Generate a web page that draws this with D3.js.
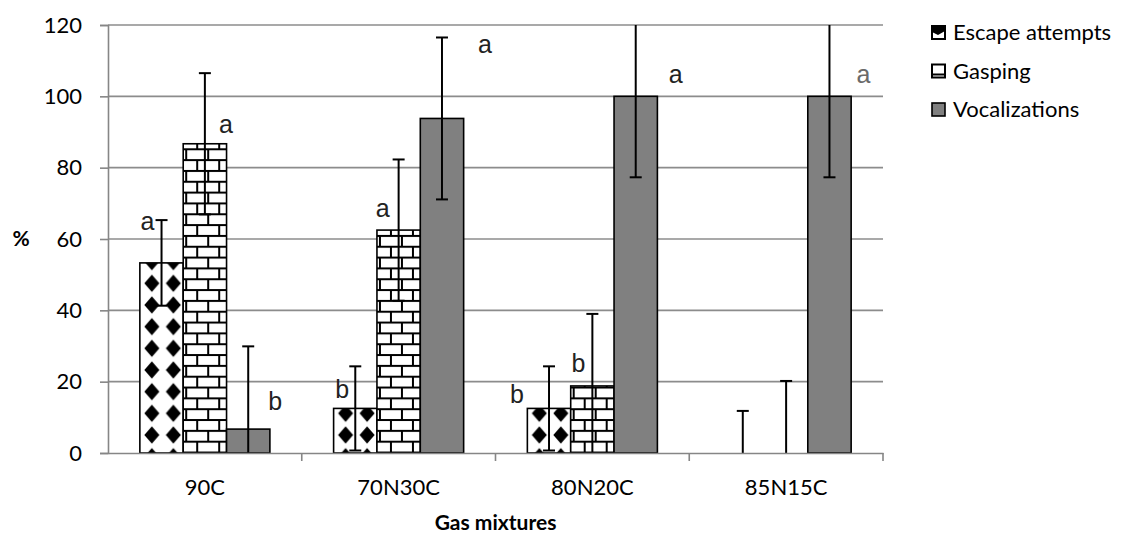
<!DOCTYPE html>
<html>
<head>
<meta charset="utf-8">
<script src="https://cdn.jsdelivr.net/npm/d3@7"></script>
<style>
  html, body { margin: 0; padding: 0; background: #fff; }
  svg { display: block; font-family: Lato, "Open Sans", sans-serif; }
</style>
</head>
<body>
<svg id="chart" width="1134" height="547"></svg>
<script>
// Response percentages per gas mixture
const categories = ["90C", "70N30C", "80N20C", "85N15C"];
const seriesNames = ["Escape attempts", "Gasping", "Vocalizations"];
const escapeValues = [53.3, 12.5, 12.5, 0];
const gaspingValues = [86.7, 62.5, 18.8, 0];
const vocalValues = [6.7, 93.8, 100, 100];
const escapeErrors = [12.0, 11.8, 11.8, 11.8];
const gaspingErrors = [19.8, 19.8, 20.2, 20.2];
const vocalErrors = [23.2, 22.7, 22.7, 22.7];
// Significance letters per series
const escapeLetters = ["a", "b", "b", ""];
const gaspingLetters = ["a", "a", "b", ""];
const vocalLetters = ["b", "a", "a", "a"];
const yTicks = [0, 20, 40, 60, 80, 100, 120];

// Letter placement (value level of baseline, horizontal shift from bar centre)
const escapeLetterPos = [[62.5, -14], [15.4, -13], [14.0, -32], null];
const gaspingLetterPos = [[89.7, 21], [66.2, -16], [22.7, -14], null];
const vocalLetterPos = [[12.1, 27], [112.1, 43], [103.7, 40], [103.7, 34]];

const svg = d3.select("#chart");
const plotLeft = 108, plotRight = 883, plotTop = 25, plotBottom = 453;

const x = d3.scaleBand().domain(categories).range([plotLeft, plotRight]).padding(0);
const xs = d3.scaleBand().domain(seriesNames).range([0, x.bandwidth()])
  .paddingInner(0).paddingOuter(0.735);
const y = d3.scaleLinear().domain([0, 120]).range([plotBottom, plotTop]);

const series = [
  { name: seriesNames[0], values: escapeValues, errors: escapeErrors, letters: escapeLetters, pos: escapeLetterPos, kind: "diamond" },
  { name: seriesNames[1], values: gaspingValues, errors: gaspingErrors, letters: gaspingLetters, pos: gaspingLetterPos, kind: "brick" },
  { name: seriesNames[2], values: vocalValues, errors: vocalErrors, letters: vocalLetters, pos: vocalLetterPos, kind: "solid" }
];

const defs = svg.append("defs");
defs.append("clipPath").attr("id", "plotClip")
  .append("rect").attr("x", plotLeft - 20).attr("y", plotTop)
  .attr("width", plotRight - plotLeft + 40).attr("height", plotBottom - plotTop);

// Gridlines
svg.append("g")
  .selectAll("line")
  .data(yTicks.filter(t => t > 0))
  .join("line")
  .attr("x1", plotLeft).attr("x2", plotRight)
  .attr("y1", d => y(d)).attr("y2", d => y(d))
  .attr("stroke", "#8c8c8c").attr("stroke-width", 1.6);

// Pattern builders, anchored to each bar
function diamondPattern(id, bx) {
  const w = 21.5, h = 21.67;
  const p = defs.append("pattern").attr("id", id)
    .attr("patternUnits", "userSpaceOnUse")
    .attr("x", bx + 1.25).attr("y", y(0) - 18 - h / 2)
    .attr("width", w).attr("height", h);
  p.append("rect").attr("width", w).attr("height", h).attr("fill", "#fff");
  const cx = w / 2, cy = h / 2;
  p.append("path")
    .attr("d", `M${cx},${cy - 8.5}L${cx + 7.5},${cy}L${cx},${cy + 8.5}L${cx - 7.5},${cy}Z`)
    .attr("fill", "#000");
}
function brickPattern(id, bx) {
  const w = 22, rh = 10.83, h = rh * 2, t = 2;
  const p = defs.append("pattern").attr("id", id)
    .attr("patternUnits", "userSpaceOnUse")
    .attr("x", bx + 3).attr("y", y(0) - 12.3)
    .attr("width", w).attr("height", h);
  p.append("rect").attr("width", w).attr("height", h).attr("fill", "#fff");
  // mortar: two courses, joints offset by half a brick
  p.append("rect").attr("x", 0).attr("y", 0).attr("width", w).attr("height", t).attr("fill", "#000");
  p.append("rect").attr("x", 0).attr("y", rh).attr("width", w).attr("height", t).attr("fill", "#000");
  p.append("rect").attr("x", w / 2 - t / 2).attr("y", 0).attr("width", t).attr("height", rh).attr("fill", "#000");
  p.append("rect").attr("x", 0).attr("y", rh).attr("width", t / 2).attr("height", rh).attr("fill", "#000");
  p.append("rect").attr("x", w - t / 2).attr("y", rh).attr("width", t / 2).attr("height", rh).attr("fill", "#000");
}

// Bars
const barLayer = svg.append("g");
series.forEach(s => {
  s.values.forEach((v, ci) => {
    if (v <= 0) return;
    const bx = x(categories[ci]) + xs(s.name);
    let fill = "#808080";
    if (s.kind === "diamond") { const id = `pd${ci}`; diamondPattern(id, bx); fill = `url(#${id})`; }
    if (s.kind === "brick") { const id = `pb${ci}`; brickPattern(id, bx); fill = `url(#${id})`; }
    barLayer.append("rect")
      .attr("x", bx).attr("y", y(v))
      .attr("width", xs.bandwidth()).attr("height", y(0) - y(v))
      .attr("fill", fill)
      .attr("stroke", "#000").attr("stroke-width", 1.6);
  });
});

// Error bars (clipped to the plot range)
const errLayer = svg.append("g").attr("clip-path", "url(#plotClip)");
series.forEach(s => {
  s.values.forEach((v, ci) => {
    const cx = x(categories[ci]) + xs(s.name) + xs.bandwidth() / 2;
    const hi = v + s.errors[ci], lo = Math.max(0, v - s.errors[ci]);
    errLayer.append("line")
      .attr("x1", cx).attr("x2", cx).attr("y1", y(Math.min(hi, 121))).attr("y2", y(lo))
      .attr("stroke", "#000").attr("stroke-width", 2);
    if (hi <= 120) {
      errLayer.append("line").attr("x1", cx - 6).attr("x2", cx + 6)
        .attr("y1", y(hi)).attr("y2", y(hi)).attr("stroke", "#000").attr("stroke-width", 2);
    }
    if (v - s.errors[ci] > 0) {
      errLayer.append("line").attr("x1", cx - 6).attr("x2", cx + 6)
        .attr("y1", y(lo)).attr("y2", y(lo)).attr("stroke", "#000").attr("stroke-width", 2);
    }
  });
});

// Significance letters
const letterLayer = svg.append("g")
  .attr("font-family", "'Liberation Sans', Arial, sans-serif")
  .attr("font-size", 25).attr("text-anchor", "middle");
series.forEach(s => {
  s.letters.forEach((L, ci) => {
    if (!L || !s.pos[ci]) return;
    const cx = x(categories[ci]) + xs(s.name) + xs.bandwidth() / 2;
    letterLayer.append("text")
      .attr("x", cx + s.pos[ci][1]).attr("y", y(s.pos[ci][0]))
      .attr("fill", ci === 3 ? "#6a6a6a" : "#222")
      .text(L);
  });
});

// Y axis
const yAxis = svg.append("g").attr("transform", `translate(${plotLeft},0)`)
  .call(d3.axisLeft(y).tickValues(yTicks).tickSize(8).tickPadding(18).tickFormat(d3.format("d")));
yAxis.select(".domain").attr("stroke", "#868686").attr("stroke-width", 1.6);
yAxis.selectAll(".tick line").attr("stroke", "#868686").attr("stroke-width", 1.6);
yAxis.selectAll(".tick text").attr("font-size", 22).attr("fill", "#000")
  .attr("font-family", "Lato, sans-serif");

// X axis
const xAxis = svg.append("g").attr("transform", `translate(0,${plotBottom})`)
  .call(d3.axisBottom(x).tickSize(0).tickPadding(26));
xAxis.select(".domain").attr("stroke", "#868686").attr("stroke-width", 1.6);
xAxis.selectAll(".tick text").attr("font-size", 22).attr("fill", "#000")
  .attr("font-family", "Lato, sans-serif");
svg.append("g").selectAll("line")
  .data(categories.slice(1).map(c => x(c)).concat([plotRight]))
  .join("line")
  .attr("x1", d => d).attr("x2", d => d)
  .attr("y1", plotBottom).attr("y2", plotBottom + 8)
  .attr("stroke", "#868686").attr("stroke-width", 1.6);

// Axis titles
svg.append("text").attr("x", 21).attr("y", y(60)).attr("dy", "0.35em")
  .attr("text-anchor", "middle").attr("font-weight", "bold").attr("font-size", 21)
  .text("%");
svg.append("text").attr("x", (plotLeft + plotRight) / 2).attr("y", 530)
  .attr("text-anchor", "middle").attr("font-weight", "bold").attr("font-size", 21)
  .text("Gas mixtures");

// Legend
const legend = svg.append("g").attr("font-size", 22);
seriesNames.forEach((name, i) => {
  const gy = 40 + i * 38.5;
  const g = legend.append("g");
  if (i === 0) {
    g.append("rect").attr("x", 932).attr("y", gy - 14).attr("width", 13).attr("height", 13)
      .attr("fill", "#fff").attr("stroke", "#000").attr("stroke-width", 2);
    g.append("path").attr("d", `M932,${gy - 14}L945,${gy - 14}L945,${gy - 9}L938,${gy - 5}L932,${gy - 8}Z`)
      .attr("fill", "#000");
  } else if (i === 1) {
    g.append("rect").attr("x", 932).attr("y", gy - 14).attr("width", 13).attr("height", 13)
      .attr("fill", "#fff").attr("stroke", "#000").attr("stroke-width", 2);
    g.append("line").attr("x1", 933).attr("x2", 944).attr("y1", gy - 4).attr("y2", gy - 4)
      .attr("stroke", "#000").attr("stroke-width", 2);
  } else {
    g.append("rect").attr("x", 932).attr("y", gy - 14).attr("width", 13).attr("height", 13)
      .attr("fill", "#808080").attr("stroke", "#000").attr("stroke-width", 1.6);
  }
  g.append("text").attr("x", 953).attr("y", gy).text(name);
});
</script>
</body>
</html>
